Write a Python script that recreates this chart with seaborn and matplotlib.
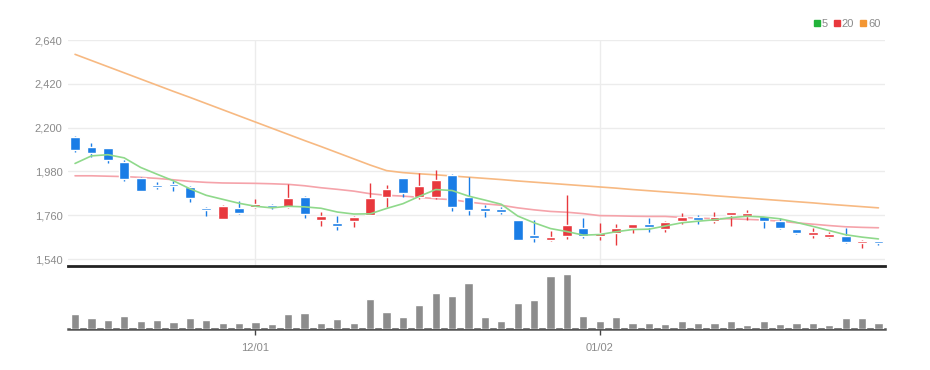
import numpy as np
import pandas as pd
import seaborn as sns
import matplotlib.pyplot as plt
from matplotlib.lines import Line2D

# --- data ---
dates = ['11/16', '11/17', '11/18', '11/21', '11/22', '11/23', '11/24', '11/25', '11/28', '11/29',
         '11/30', '12/01', '12/02', '12/05', '12/06', '12/07', '12/08', '12/09', '12/12', '12/13',
         '12/14', '12/15', '12/16', '12/19', '12/20', '12/21', '12/22', '12/23', '12/26', '12/27',
         '12/28', '12/29', '01/02', '01/03', '01/04', '01/05', '01/06', '01/09', '01/10', '01/11',
         '01/12', '01/13', '01/16', '01/17', '01/18', '01/19', '01/20', '01/25', '01/26', '01/27']

open_ = [2154, 2104, 2096, 2025, 1945, 1906, 1911, 1903, 1790, 1739,
         1798, 1800, 1806, 1800, 1853, 1736, 1722, 1731, 1761, 1853,
         1945, 1850, 1850, 1962, 1853, 1795, 1787, 1736, 1660, 1637,
         1655, 1694, 1657, 1669, 1694, 1714, 1690, 1731, 1744, 1732,
         1762, 1757, 1756, 1731, 1690, 1661, 1653, 1657, 1620, 1625]
high = [2160, 2121, 2100, 2037, 1953, 1925, 1930, 1905, 1803, 1811,
        1831, 1841, 1815, 1915, 1855, 1774, 1756, 1755, 1920, 1911,
        1948, 1970, 1987, 1965, 1953, 1811, 1803, 1738, 1736, 1682,
        1861, 1744, 1719, 1716, 1716, 1744, 1730, 1769, 1760, 1774,
        1777, 1786, 1758, 1747, 1692, 1697, 1674, 1697, 1635, 1630]
low = [2079, 2051, 2020, 1932, 1880, 1890, 1883, 1828, 1757, 1739,
       1765, 1795, 1791, 1798, 1744, 1707, 1686, 1702, 1761, 1803,
       1853, 1840, 1840, 1781, 1761, 1752, 1765, 1635, 1627, 1630,
       1639, 1644, 1635, 1610, 1672, 1677, 1677, 1714, 1714, 1722,
       1707, 1736, 1697, 1692, 1667, 1644, 1647, 1622, 1597, 1612]
close = [2087, 2071, 2037, 1942, 1883, 1900, 1905, 1845, 1784, 1806,
         1772, 1815, 1800, 1848, 1765, 1756, 1708, 1751, 1845, 1894,
         1870, 1908, 1937, 1800, 1786, 1780, 1777, 1635, 1648, 1647,
         1711, 1657, 1669, 1694, 1714, 1699, 1727, 1752, 1738, 1749,
         1768, 1764, 1731, 1694, 1670, 1668, 1660, 1624, 1627, 1619]

ma5 = [2020, 2058, 2064, 2048, 2000, 1966, 1933, 1893, 1860, 1840,
       1820, 1805, 1797, 1805, 1802, 1795, 1776, 1766, 1767, 1794,
       1818, 1855, 1889, 1884, 1856, 1836, 1815, 1756, 1722, 1693,
       1678, 1660, 1663, 1677, 1688, 1690, 1706, 1722, 1730, 1737,
       1748, 1755, 1751, 1742, 1724, 1704, 1683, 1662, 1650, 1641]
ma20 = [1958, 1958, 1956, 1954, 1950, 1945, 1938, 1930, 1925, 1922,
        1921, 1920, 1918, 1915, 1908, 1898, 1890, 1881, 1868, 1860,
        1856, 1850, 1843, 1838, 1826, 1817, 1810, 1797, 1787, 1779,
        1775, 1768, 1758, 1757, 1755, 1754, 1754, 1749, 1745, 1743,
        1742, 1739, 1736, 1730, 1722, 1715, 1708, 1702, 1699, 1697]
ma60 = [2568, 2537, 2506, 2475, 2444, 2413, 2382, 2352, 2321, 2290,
        2259, 2228, 2197, 2166, 2135, 2105, 2074, 2043, 2012, 1984,
        1974, 1968, 1963, 1957, 1951, 1945, 1939, 1932, 1926, 1920,
        1914, 1908, 1902, 1896, 1889, 1883, 1877, 1871, 1865, 1858,
        1852, 1846, 1840, 1834, 1828, 1822, 1815, 1809, 1803, 1797]

volume = [147, 107, 90, 130, 80, 90, 73, 107, 90, 57,
          63, 73, 47, 147, 163, 63, 97, 63, 297, 173,
          123, 240, 357, 330, 457, 123, 80, 263, 290, 533,
          550, 130, 80, 123, 57, 63, 47, 80, 63, 63,
          77, 40, 77, 47, 60, 60, 40, 107, 113, 60]

price_ticks = [1540, 1760, 1980, 2200, 2420, 2640]

df = pd.DataFrame({'date': dates, 'open': open_, 'high': high, 'low': low,
                   'close': close, 'ma5': ma5, 'ma20': ma20, 'ma60': ma60,
                   'volume': volume})
df['pos'] = np.arange(len(df))
df['up'] = df['close'] >= df['open']

UP = '#e8383d'
DOWN = '#1a7de6'
GRID = '#ececec'
TXT = '#8a8a8a'

sns.set_theme(style='white')
plt.rcParams['font.family'] = ['Liberation Sans Narrow', 'Liberation Sans', 'DejaVu Sans']

fig = plt.figure(figsize=(9.3, 3.7), dpi=100)
ax = fig.add_axes([68 / 930, 104 / 370, 817 / 930, 226 / 370])
axv = fig.add_axes([68 / 930, 41 / 370, 817 / 930, 59 / 370], sharex=ax)

# month starts -> x ticks
month_start = [i for i in range(1, len(dates)) if dates[i][:2] != dates[i - 1][:2]]

# --- price panel ---
for y in price_ticks:
    ax.axhline(y, color=GRID, lw=1, zorder=0)
for i in month_start:
    ax.axvline(i, color=GRID, lw=1, zorder=0)

colors = np.where(df['up'], UP, DOWN)
ax.vlines(df['pos'], df['low'], df['high'], colors=colors, lw=1, zorder=3)
body_lo = df[['open', 'close']].min(axis=1)
body_h = (df['close'] - df['open']).abs().clip(lower=13)
ax.bar(df['pos'], body_h, bottom=body_lo, width=0.6, color=colors, zorder=4)

sns.lineplot(data=df, x='pos', y='ma60', color='#f7b982', lw=1.2, ax=ax, zorder=2)
sns.lineplot(data=df, x='pos', y='ma20', color='#f5a3aa', lw=1.2, ax=ax, zorder=2)
sns.lineplot(data=df, x='pos', y='ma5', color='#8fd98b', lw=1.2, ax=ax, zorder=5)

ax.set_xlim(-0.43, len(df) - 0.6)
ax.set_ylim(1505, 2640)
ax.set_yticks(price_ticks)
ax.set_yticklabels([f'{v:,}' for v in price_ticks], color=TXT, fontsize=8)
ax.tick_params(axis='y', length=0, pad=4)
ax.tick_params(axis='x', bottom=False, labelbottom=False)
ax.set_xlabel('')
ax.set_ylabel('')
for s in ['top', 'right', 'left']:
    ax.spines[s].set_visible(False)
ax.spines['bottom'].set_color('#222222')
ax.spines['bottom'].set_linewidth(2)

handles = [Line2D([], [], marker='s', ls='', color=c, markersize=5)
           for c in ['#22b33a', '#e8383d', '#f39633']]
ax.legend(handles, ['5', '20', '60'], loc='lower right', bbox_to_anchor=(1.0, 1.03),
          ncol=3, frameon=False, fontsize=8, handletextpad=0.05, columnspacing=0.4,
          borderaxespad=0, labelcolor=TXT, handlelength=0.8)

# --- volume panel ---
sns.barplot(data=df, x='pos', y='volume', native_scale=True, color='#8c8c8c',
            saturation=1, width=0.5, ax=axv, zorder=3)
axv.set_ylim(0, 590)
axv.set_yticks([])
axv.set_xticks(month_start)
axv.set_xticklabels([dates[i] for i in month_start], color=TXT, fontsize=8)
axv.tick_params(axis='x', bottom=True, length=4, width=1, color='#444444', pad=6)
axv.set_xlabel('')
axv.set_ylabel('')
for s in ['top', 'right', 'left']:
    axv.spines[s].set_visible(False)
axv.spines['bottom'].set_color('#555555')
axv.spines['bottom'].set_linewidth(1.8)
axv.set_xlim(-0.43, len(df) - 0.6)

fig.savefig('out.png', dpi=100)
